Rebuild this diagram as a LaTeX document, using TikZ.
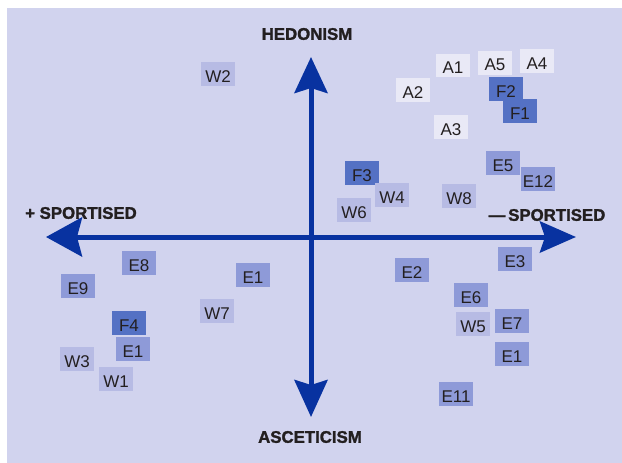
\documentclass[tikz,border=0pt]{standalone}
\usepackage{fontspec}
\setmainfont{Liberation Sans}
\newfontfamily\heavyfont[FakeBold=1.6]{Liberation Sans Bold}
\usetikzlibrary{arrows.meta}
\definecolor{bgc}{RGB}{209,211,238}
\definecolor{acol}{RGB}{233,233,246}
\definecolor{wcol}{RGB}{183,187,228}
\definecolor{ecol}{RGB}{142,154,216}
\definecolor{fcol}{RGB}{84,113,196}
\definecolor{axcol}{RGB}{8,50,160}
\definecolor{txt}{RGB}{35,31,32}
\tikzset{
  cell/.style={minimum width=34.7pt, minimum height=23.7pt, inner sep=0pt,
    text height=16pt, text depth=0pt, font=\fontsize{17}{17}\selectfont, text=txt},
  acell/.style={cell, fill=acol},
  wcell/.style={cell, fill=wcol},
  ecell/.style={cell, fill=ecol},
  fcell/.style={cell, fill=fcol},
  axis/.style={draw=axcol, line width=5pt},
  axlabel/.style={font=\heavyfont\fontsize{16.8}{17}\selectfont, text=txt, inner sep=0pt}
}
\begin{document}
\begin{tikzpicture}[x=1pt,y=-1pt]
\useasboundingbox (0,0) rectangle (622,463);
\fill[bgc] (7,8) rectangle (622,463);
% axes
\coordinate (O) at (311,237);
\coordinate (Nt) at (311,57);
\coordinate (St) at (311,417);
\coordinate (Wt) at (46,237);
\coordinate (Et) at (576,237);
\draw[axis, -{Stealth[length=36pt,width=33pt,inset=5pt]}] (O) -- (Nt);
\draw[axis, -{Stealth[length=37pt,width=33pt,inset=5pt]}] (O) -- (St);
\draw[axis, -{Stealth[length=36pt,width=39pt,inset=5pt]}] (O) -- (Wt);
\draw[axis, -{Stealth[length=36pt,width=31pt,inset=5pt]}] (O) -- (Et);
% axis labels
\node[axlabel] (hed) at (307,34) {HEDONISM};
\node[axlabel] (asc) at (310,437) {ASCETICISM};
\node[axlabel] (psp) at (81,213) {+ SPORTISED};
\node[axlabel] (msp) at (547,215) {—\,SPORTISED};
% cells
\node[acell] (A1) at (453,65.5) {A1};
\node[acell] (A5) at (495,62.7) {A5};
\node[acell] (A4) at (537,61) {A4};
\node[acell] (A2) at (413,90) {A2};
\node[fcell] (F2) at (506,89) {F2};
\node[fcell] (F1) at (520,111) {F1};
\node[acell] (A3) at (451,127) {A3};
\node[ecell] (E5) at (503,163) {E5};
\node[ecell] (E12) at (538,179) {E12};
\node[wcell] (W2) at (218,74) {W2};
\node[fcell] (F3) at (362,173) {F3};
\node[wcell] (W4) at (392,195) {W4};
\node[wcell] (W6) at (354,210) {W6};
\node[wcell] (W8) at (459,196) {W8};
\node[ecell] (E8) at (139,263) {E8};
\node[ecell] (E9) at (78,286) {E9};
\node[ecell] (E1m) at (253,275) {E1};
\node[wcell] (W7) at (217,311) {W7};
\node[fcell] (F4) at (129,323) {F4};
\node[ecell] (E1l) at (133,349) {E1};
\node[wcell] (W3) at (77,359) {W3};
\node[wcell] (W1) at (116,379) {W1};
\node[ecell] (E3) at (515,259) {E3};
\node[ecell] (E2) at (412,270) {E2};
\node[ecell] (E6) at (471,295) {E6};
\node[wcell] (W5) at (473,324) {W5};
\node[ecell] (E7) at (512,321) {E7};
\node[ecell] (E1r) at (512,354) {E1};
\node[ecell] (E11) at (456,394) {E11};
\end{tikzpicture}
\end{document}
